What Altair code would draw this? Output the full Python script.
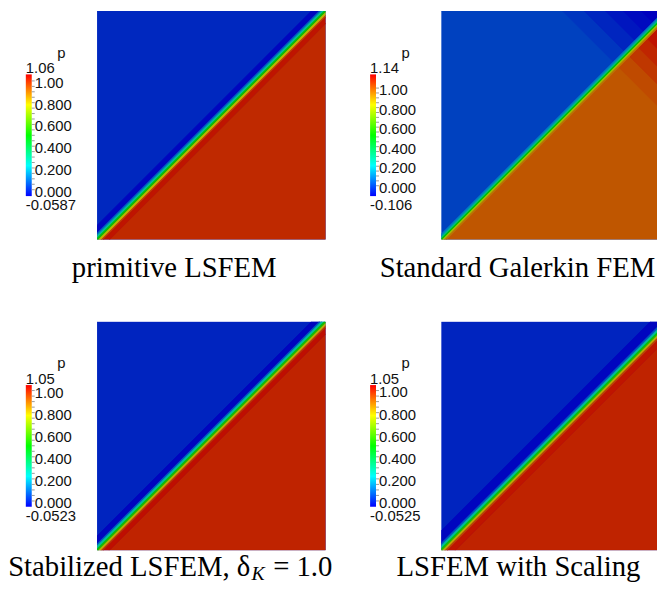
import altair as alt
import pandas as pd

# ---------------- data ----------------
captions = ["primitive LSFEM", "Standard Galerkin FEM", "Stabilized LSFEM, δ", "LSFEM with Scaling"]
caption_sub = ["", "", "K", ""]
caption_tail = ["", "", "= 1.0", ""]
field_name = "p"
vmins = [-0.0587, -0.106, -0.0523, -0.0525]
vmaxs = [1.06, 1.14, 1.05, 1.05]
vmin_labels = ["-0.0587", "-0.106", "-0.0523", "-0.0525"]
vmax_labels = ["1.06", "1.14", "1.05", "1.05"]
major_ticks = [0.0, 0.2, 0.4, 0.6, 0.8, 1.0]
major_labels = ["0.000", "0.200", "0.400", "0.600", "0.800", "1.00"]
minor_ticks = [0.05, 0.1, 0.15, 0.25, 0.3, 0.35, 0.45, 0.5, 0.55,
               0.65, 0.7, 0.75, 0.85, 0.9, 0.95]

mesh_n = 64
# profile across the diagonal: band edges (offset x - y, in mesh cells) and p in each band
band_edges = [
    [-4.0, -1.8, -1.2, -0.4, 0.4, 1.2, 1.8, 3.5],
    [-1.6, -0.9, -0.3, 0.3, 0.9, 1.4],
    [-4.0, -1.8, -1.2, -0.4, 0.4, 1.2, 1.8, 3.5],
    [-5.5, -2.0, -1.3, -0.5, 0.3, 1.1, 1.8, 4.0],
]
band_values = [
    [-0.05, 0.08, 0.28, 0.52, 0.80, 0.97, 1.03],
    [0.10, 0.30, 0.52, 0.78, 0.95],
    [-0.045, 0.08, 0.28, 0.52, 0.80, 0.97, 1.03],
    [-0.045, 0.08, 0.28, 0.52, 0.80, 0.96, 1.02],
]
far_low = [0.0, 0.0, 0.0, 0.0]     # upper-left region
far_high = [1.0, 1.0, 1.0, 1.0]    # lower-right region
# spots at the top-right corner: wedge size (cells) and p
corner_low_r = [[], [30, 24, 18, 13, 8], [], []]
corner_low_p = [[], [-0.02, -0.045, -0.07, -0.09, -0.106], [], []]
corner_high_r = [[], [30, 24, 19, 14, 9], [], []]
corner_high_p = [[], [1.02, 1.05, 1.08, 1.11, 1.135], [], []]

jet = ["#0000ff", "#00ffff", "#00ff00", "#ffff00", "#ff0000"]
SHADE = 0.75

# ---------------- layout / style ----------------
IMG = 231
VISIBLE_W = [231, 218, 231, 218]   # right-hand images are cut by the page edge
CB_X0, CB_X1 = -72, -66
CB_TOP, CB_BOT = 64, 187
CAP_Y = [269, 269, 257, 257]
CAP_X = [78, 77, 0, 78]
CAP_SIZE = 29
LAB_FONT = "Liberation Sans"
CAP_FONT = "Liberation Serif"


def shade(hex_color, f):
    r, g, b = (int(hex_color[k:k + 2], 16) for k in (1, 3, 5))
    return "#%02x%02x%02x" % (round(r * f), round(g * f), round(b * f))


shaded = [shade(c, SHADE) for c in jet]


def panel(i):
    n = mesh_n
    rows = []
    cnt = [0]

    def add(xs, ys, y2s, p):
        for x, y, y2 in zip(xs, ys, y2s):
            rows.append({"band": "b%02d" % cnt[0], "x": x, "y": y, "y2": y2, "p": p})
        cnt[0] += 1

    e = band_edges[i]
    add([0, n], [0, 0], [n, n], far_low[i])
    add([e[-1], n], [0, 0], [0, n - e[-1]], far_high[i])
    for r, p in zip(corner_low_r[i], corner_low_p[i]):
        add([n - r, n - r / 2, n], [n, n - r / 2, n], [n, n, n], p)
    for r, p in zip(corner_high_r[i], corner_high_p[i]):
        add([n - r / 2, n], [n - r / 2, n - r], [n - r / 2, n], p)
    for k, p in enumerate(band_values[i]):
        lo, hi = e[k], e[k + 1]
        add([-8, n + 8], [-8 - hi, n + 8 - hi], [-8 - lo, n + 8 - lo], p)
    df = pd.DataFrame(rows)

    lo_v, hi_v = vmins[i], vmaxs[i]
    dom = [lo_v + (hi_v - lo_v) * k / 4 for k in range(5)]
    cscale = alt.Scale(domain=dom, range=shaded, interpolate="rgb")
    x_max = n * VISIBLE_W[i] / IMG

    img = alt.Chart(df).mark_area(clip=True, interpolate="linear", strokeWidth=0.7).encode(
        x=alt.X("x:Q", scale=alt.Scale(domain=[0, x_max], nice=False, zero=False), axis=None),
        y=alt.Y("y:Q", scale=alt.Scale(domain=[0, n], nice=False, zero=False), axis=None, stack=None),
        y2="y2:Q",
        color=alt.Color("p:Q", scale=cscale, legend=None),
        stroke=alt.Stroke("p:Q", scale=cscale, legend=None),
        detail="band:N",
    )

    cbdf = pd.DataFrame({"lo": [lo_v], "hi": [hi_v], "lo_label": [vmin_labels[i]],
                         "hi_label": [vmax_labels[i]], "name": [field_name],
                         "cap": [captions[i]], "sub": [caption_sub[i]], "tail": [caption_tail[i]]})
    cb_scale = alt.Scale(domain=[lo_v, hi_v], range=[CB_BOT, CB_TOP], nice=False, zero=False)
    grad = alt.LinearGradient(
        gradient="linear", x1=0, x2=0, y1=1, y2=0,
        stops=[alt.GradientStop(color=c, offset=k / 4) for k, c in enumerate(jet)])
    bar = alt.Chart(cbdf).mark_rect(color=grad).encode(
        x=alt.value(CB_X0), x2=alt.value(CB_X1),
        y=alt.Y("lo:Q", scale=cb_scale, axis=None), y2="hi:Q")

    tdf = pd.DataFrame({"v": major_ticks + minor_ticks})
    ticks = alt.Chart(tdf).mark_rule(color="#9a9a9a", strokeWidth=1).encode(
        x=alt.value(CB_X1), x2=alt.value(CB_X1 + 3),
        y=alt.Y("v:Q", scale=cb_scale, axis=None))
    ldf = pd.DataFrame({"v": major_ticks, "label": major_labels})
    labels = alt.Chart(ldf).mark_text(align="left", baseline="middle", dy=2,
                                      font=LAB_FONT, fontSize=15, color="#111111").encode(
        x=alt.value(CB_X1 + 3), y=alt.Y("v:Q", scale=cb_scale, axis=None), text="label:N")
    tmax = alt.Chart(cbdf).mark_text(align="left", baseline="alphabetic", dy=-1,
                                     font=LAB_FONT, fontSize=15, color="#111111").encode(
        x=alt.value(CB_X0), y=alt.Y("hi:Q", scale=cb_scale, axis=None), text="hi_label:N")
    tmin = alt.Chart(cbdf).mark_text(align="left", baseline="alphabetic", dy=14,
                                     font=LAB_FONT, fontSize=15, color="#111111").encode(
        x=alt.value(CB_X0), y=alt.Y("lo:Q", scale=cb_scale, axis=None), text="lo_label:N")
    tp = alt.Chart(cbdf).mark_text(align="center", baseline="alphabetic", dy=-17,
                                   font=LAB_FONT, fontSize=15, color="#111111").encode(
        x=alt.value(-36), y=alt.Y("hi:Q", scale=cb_scale, axis=None), text="name:N")

    layers = [img, bar, ticks, labels, tmax, tmin, tp]
    cap_y = CAP_Y[i]
    if caption_sub[i]:
        xk = 155
        layers.append(alt.Chart(cbdf).mark_text(align="right", baseline="alphabetic",
                                                font=CAP_FONT, fontSize=CAP_SIZE, color="black").encode(
            x=alt.value(xk), y=alt.value(cap_y), text="cap:N"))
        layers.append(alt.Chart(cbdf).mark_text(align="left", baseline="alphabetic", fontStyle="italic",
                                                font=CAP_FONT, fontSize=20, color="black").encode(
            x=alt.value(xk + 1), y=alt.value(cap_y + 4), text="sub:N"))
        layers.append(alt.Chart(cbdf).mark_text(align="left", baseline="alphabetic",
                                                font=CAP_FONT, fontSize=CAP_SIZE, color="black").encode(
            x=alt.value(xk + 23), y=alt.value(cap_y), text="tail:N"))
    else:
        layers.append(alt.Chart(cbdf).mark_text(align="center", baseline="alphabetic",
                                                font=CAP_FONT, fontSize=CAP_SIZE, color="black").encode(
            x=alt.value(CAP_X[i]), y=alt.value(cap_y), text="cap:N"))

    return alt.layer(*layers).resolve_scale(y="independent", x="independent",
                                            color="independent", stroke="independent").properties(
        width=VISIBLE_W[i], height=IMG)


chart = alt.concat(panel(0), panel(1), panel(2), panel(3), columns=2,
                   spacing={"row": 83, "column": 117}, bounds="flush").properties(
    padding={"left": 0, "top": 0, "right": 0, "bottom": 0}
).configure_view(stroke=None)

chart.save("out.html", embed_options={"renderer": "svg", "actions": False})
